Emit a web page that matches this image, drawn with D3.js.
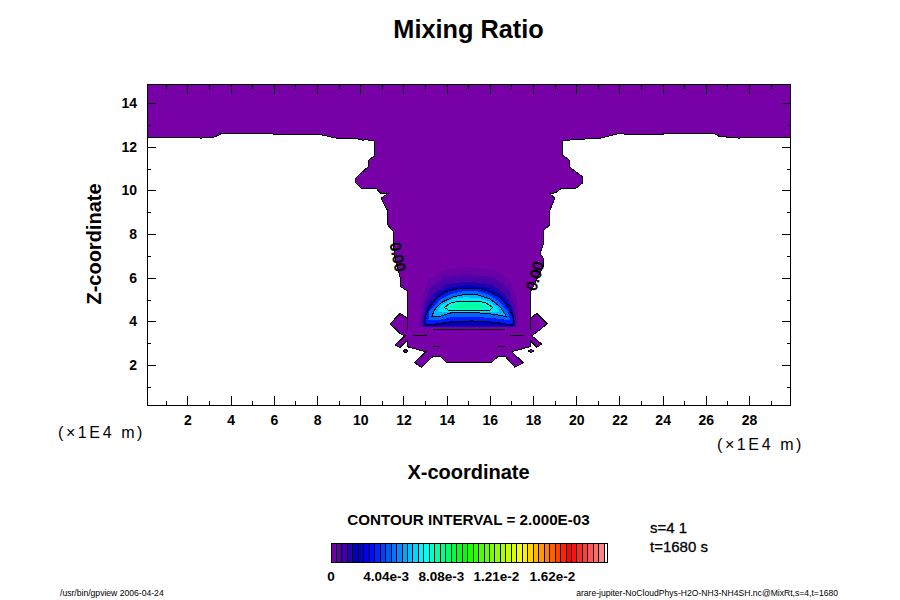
<!DOCTYPE html>
<html>
<head>
<meta charset="utf-8">
<script src="https://cdn.jsdelivr.net/npm/d3@7"></script>
<style>
html, body { margin: 0; padding: 0; background: #fff; }
text { font-family: "Liberation Sans", Arial, sans-serif; fill: #000; }
</style>
</head>
<body>
<div id="chart"></div>
<script>
// ---- values ----
const xDomain = [0.125, 29.92];
const zDomain = [0.17, 14.85];
const xTicks = [2, 4, 6, 8, 10, 12, 14, 16, 18, 20, 22, 24, 26, 28];
const zTicks = [2, 4, 6, 8, 10, 12, 14];
const xMinor = [1, 3, 5, 7, 9, 11, 13, 15, 17, 19, 21, 23, 25, 27, 29];
const zMinor = [1, 3, 5, 7, 9, 11, 13];

// zero contour: edge of the non-zero region, clockwise from the top left corner
const zeroRegion = [
  [0.125, 14.85], [29.92, 14.85], [29.92, 12.43], [27.66, 12.43], [27.58, 12.39], [27.27, 12.43],
  [26.65, 12.46], [26.34, 12.62], [24.18, 12.62], [24.03, 12.58], [22.22, 12.58], [22.02, 12.62],
  [21.10, 12.39], [20.17, 12.34], [19.75, 12.31], [19.37, 12.26], [19.37, 11.62], [19.68, 11.39],
  [19.71, 11.06], [20.28, 10.63], [20.28, 10.33], [19.99, 10.10], [19.32, 10.10], [19.06, 9.90],
  [18.78, 9.84], [19.01, 9.64], [18.78, 9.10], [18.78, 8.42], [18.50, 8.19], [18.50, 7.59],
  [18.32, 7.12], [18.47, 6.90], [18.47, 6.51], [18.20, 6.00], [17.89, 5.36], [17.89, 4.14],
  [18.17, 4.37], [18.66, 3.88], [17.94, 3.34], [18.40, 2.96], [18.17, 2.81], [17.86, 3.12],
  [17.86, 2.84], [17.01, 2.61], [17.55, 2.11], [17.16, 1.90], [16.70, 2.41], [16.39, 2.41],
  [16.08, 2.11], [14.00, 2.11], [13.69, 2.41], [13.38, 2.41], [12.84, 1.90], [12.50, 2.11],
  [13.04, 2.61], [12.18, 2.84], [12.18, 3.12], [11.84, 2.81], [11.61, 2.92], [12.07, 3.34],
  [11.84, 3.45], [11.38, 3.88], [11.84, 4.37], [12.19, 4.14], [12.19, 5.39], [11.87, 5.59],
  [11.84, 6.05], [11.57, 7.12], [11.53, 8.11], [11.27, 8.42], [11.25, 9.10], [10.96, 9.64],
  [11.25, 9.84], [10.94, 9.87], [10.73, 10.10], [10.05, 10.10], [9.80, 10.33], [9.77, 10.55],
  [10.37, 11.09], [10.39, 11.39], [10.67, 11.58], [10.65, 12.26], [10.30, 12.32], [10.11, 12.30],
  [9.99, 12.35], [8.91, 12.39], [8.21, 12.54], [7.82, 12.58], [6.00, 12.57], [5.97, 12.62],
  [3.58, 12.62], [3.47, 12.54], [3.19, 12.43], [2.73, 12.43], [2.66, 12.39], [2.39, 12.43],
  [0.125, 12.43]
];
const islandLeft = [[11.98, 2.64], [12.10, 2.72], [12.22, 2.64], [12.10, 2.56]];
const islandRight = [[17.78, 2.64], [17.90, 2.72], [18.02, 2.64], [17.90, 2.56]];

// stray bits of the zero contour inside the region
const zeroSlivers = [
  [[12.45, 3.36], [13.07, 3.36]],
  [[16.93, 3.36], [17.58, 3.36]],
  [[13.38, 2.86], [13.69, 2.86]],
  [[16.36, 2.86], [16.70, 2.86]],
  [[13.37, 3.65], [16.70, 3.65]],
  [[12.19, 4.14], [12.19, 3.60]],
  [[17.89, 4.14], [17.89, 3.60]]
];

// black contours of the bubble
const contour2 = [
  [13.00, 3.87], [13.00, 4.21], [13.23, 4.67], [13.61, 5.13], [14.07, 5.39], [14.62, 5.52],
  [15.46, 5.52], [16.00, 5.36], [16.47, 5.09], [16.85, 4.67], [17.08, 4.21], [17.08, 3.87],
  [16.78, 3.87], [16.24, 3.96], [15.16, 4.02], [14.31, 3.99], [13.46, 3.87]
];
const contour4 = [
  [13.31, 4.21], [13.43, 4.52], [13.77, 4.87], [14.31, 5.13], [14.85, 5.24], [15.46, 5.21],
  [16.00, 5.03], [16.47, 4.67], [16.78, 4.21], [16.24, 4.32], [15.16, 4.42], [14.23, 4.40],
  [13.61, 4.21]
];
const contour6 = [
  [13.89, 4.63], [14.15, 4.83], [14.54, 4.93], [15.46, 4.93], [15.85, 4.83], [16.13, 4.63],
  [15.96, 4.49], [15.46, 4.48], [14.15, 4.48]
];

// shading of the bubble, outermost first; values picked from the colour of each band
const shadeValues = [0.0004, 0.0008, 0.0014, 0.0018, 0.0032, 0.0044, 0.0056, 0.0064, 0.0073, 0.0079];
const shadeOutlines = [
  [[12.73, 3.74], [12.73, 4.06], [12.81, 4.98], [13.13, 5.90], [13.83, 6.35], [14.99, 6.51],
   [16.24, 6.35], [16.93, 5.90], [17.25, 4.98], [17.33, 4.06], [17.33, 3.74]],
  [[12.83, 3.74], [12.83, 3.97], [12.90, 4.75], [13.23, 5.53], [13.92, 6.03], [14.99, 6.13],
   [16.14, 6.03], [16.84, 5.53], [17.16, 4.75], [17.23, 3.97], [17.23, 3.74]],
  [[12.90, 3.74], [12.90, 3.97], [13.04, 4.71], [13.41, 5.30], [14.01, 5.71], [14.99, 5.82],
   [16.05, 5.71], [16.65, 5.30], [17.02, 4.71], [17.16, 3.97], [17.16, 3.74]],
  [[12.97, 3.79], [12.97, 4.25], [13.13, 4.71], [13.55, 5.21], [14.06, 5.53], [14.99, 5.67],
   [15.96, 5.53], [16.56, 5.21], [16.93, 4.71], [17.14, 4.25], [17.14, 3.79]],
  contour2,
  [[13.15, 4.05], [13.20, 4.45], [13.70, 5.00], [14.20, 5.26], [14.75, 5.38], [15.46, 5.37],
   [16.00, 5.20], [16.47, 4.88], [16.82, 4.45], [16.95, 4.05], [16.24, 4.14], [15.16, 4.22],
   [14.27, 4.20], [13.53, 4.04]],
  contour4,
  [[13.60, 4.42], [13.70, 4.70], [14.30, 5.03], [14.80, 5.10], [15.46, 5.08], [16.00, 4.92],
   [16.30, 4.65], [16.45, 4.42], [15.16, 4.45], [14.23, 4.44]],
  contour6,
  [[14.20, 4.64], [14.60, 4.84], [15.40, 4.84], [15.80, 4.66], [15.40, 4.55], [14.60, 4.55]]
];

// colour bar
const colorValues = [0, 0.0004, 0.0008, 0.0014, 0.0018, 0.0028, 0.0068, 0.0098, 0.014, 0.0175, 0.0202];
const colorList = ["#7700a6", "#6800a8", "#4c00a8", "#2400ae", "#0000b8", "#0000ff", "#00ffff", "#00ff00", "#ffff00", "#ff0000", "#ff9898"];
const barStep = 0.0004;
const barMax = 0.0202;
const barTicks = [0, 0.00404, 0.00808, 0.0121, 0.0162];
const barTickLabels = ["0", "4.04e-3", "8.08e-3", "1.21e-2", "1.62e-2"];

// ---- layout ----
const width = 900;
const height = 600;
const LEFT = 147, RIGHT = 790.5, TOP = 84.5, BOTTOM = 405;
const MAJOR = 9, MINOR = 4;

const svg = d3.select("#chart").append("svg")
  .attr("width", width)
  .attr("height", height)
  .style("display", "block");

const xScale = d3.scaleLinear().domain(xDomain).range([LEFT, RIGHT]);
const zScale = d3.scaleLinear().domain(zDomain).range([BOTTOM, TOP]);
const colorScale = d3.scaleLinear().domain(colorValues).range(colorList);

const line = d3.line().x(d => xScale(d[0])).y(d => zScale(d[1]));
const closed = d3.line().x(d => xScale(d[0])).y(d => zScale(d[1])).curve(d3.curveLinearClosed);

// ---- the field ----
const field = svg.append("g").attr("shape-rendering", "crispEdges");

[zeroRegion, islandLeft, islandRight].forEach(poly => {
  field.append("path")
    .attr("d", closed(poly))
    .attr("fill", colorScale(0))
    .attr("stroke", "#000")
    .attr("stroke-width", 1);
});

shadeOutlines.forEach((poly, i) => {
  field.append("path")
    .attr("d", closed(poly))
    .attr("fill", colorScale(shadeValues[i]));
});

[contour2, contour4, contour6].forEach(poly => {
  field.append("path")
    .attr("d", closed(poly))
    .attr("fill", "none")
    .attr("stroke", "#000")
    .attr("stroke-width", 1);
});

zeroSlivers.forEach(seg => {
  field.append("path")
    .attr("d", line(seg))
    .attr("fill", "none")
    .attr("stroke", "#000")
    .attr("stroke-width", 1);
});

// contour labels on the zero line
svg.append("text")
  .attr("transform", `translate(${xScale(11.74)},${zScale(6.95)}) rotate(78)`)
  .attr("text-anchor", "middle")
  .attr("dy", "0.35em")
  .style("font-size", "15px")
  .style("stroke", "#000")
  .style("stroke-width", 0.7)
  .text("0.00");

svg.append("text")
  .attr("transform", `translate(${xScale(18.09)},${zScale(6.08)}) rotate(-73)`)
  .attr("text-anchor", "middle")
  .attr("dy", "0.35em")
  .style("font-size", "15px")
  .style("stroke", "#000")
  .style("stroke-width", 0.7)
  .text("0.00");

// ---- axes ----
function styleAxis(g, labelled) {
  g.attr("shape-rendering", "crispEdges");
  g.select(".domain").remove();
  g.selectAll("line").attr("stroke", "#000").attr("stroke-width", 1);
  if (labelled) {
    g.selectAll("text")
      .style("font-size", "14px")
      .style("font-weight", "bold");
  } else {
    g.selectAll("text").remove();
  }
}

svg.append("g")
  .attr("transform", `translate(0,${BOTTOM})`)
  .call(d3.axisBottom(xScale).tickValues(xTicks).tickSizeInner(-MAJOR).tickSizeOuter(0).tickPadding(MAJOR + 1.5).tickFormat(d3.format("d")))
  .call(g => styleAxis(g, true));
svg.append("g")
  .attr("transform", `translate(0,${BOTTOM})`)
  .call(d3.axisBottom(xScale).tickValues(xMinor).tickSizeInner(-MINOR).tickSizeOuter(0))
  .call(g => styleAxis(g, false));
svg.append("g")
  .attr("transform", `translate(0,${TOP})`)
  .call(d3.axisTop(xScale).tickValues(xTicks).tickSizeInner(-MAJOR).tickSizeOuter(0))
  .call(g => styleAxis(g, false));
svg.append("g")
  .attr("transform", `translate(0,${TOP})`)
  .call(d3.axisTop(xScale).tickValues(xMinor).tickSizeInner(-MINOR).tickSizeOuter(0))
  .call(g => styleAxis(g, false));
svg.append("g")
  .attr("transform", `translate(${LEFT},0)`)
  .call(d3.axisLeft(zScale).tickValues(zTicks).tickSizeInner(-MAJOR).tickSizeOuter(0).tickPadding(10).tickFormat(d3.format("d")))
  .call(g => styleAxis(g, true));
svg.append("g")
  .attr("transform", `translate(${LEFT},0)`)
  .call(d3.axisLeft(zScale).tickValues(zMinor).tickSizeInner(-MINOR).tickSizeOuter(0))
  .call(g => styleAxis(g, false));
svg.append("g")
  .attr("transform", `translate(${RIGHT},0)`)
  .call(d3.axisRight(zScale).tickValues(zTicks).tickSizeInner(-MAJOR).tickSizeOuter(0))
  .call(g => styleAxis(g, false));
svg.append("g")
  .attr("transform", `translate(${RIGHT},0)`)
  .call(d3.axisRight(zScale).tickValues(zMinor).tickSizeInner(-MINOR).tickSizeOuter(0))
  .call(g => styleAxis(g, false));

svg.append("rect")
  .attr("x", LEFT).attr("y", TOP)
  .attr("width", RIGHT - LEFT).attr("height", BOTTOM - TOP)
  .attr("fill", "none")
  .attr("stroke", "#000")
  .attr("stroke-width", 1)
  .attr("shape-rendering", "crispEdges");

// ---- titles ----
function label(x, y, str, size, bold, anchor) {
  return svg.append("text")
    .attr("x", x).attr("y", y)
    .attr("text-anchor", anchor || "middle")
    .style("font-size", size + "px")
    .style("font-weight", bold ? "bold" : "normal")
    .text(str);
}

label(468.5, 38, "Mixing Ratio", 25.3, true);
label(468.5, 479, "X-coordinate", 20, true);
svg.append("text")
  .attr("transform", "translate(101,244) rotate(-90)")
  .attr("text-anchor", "middle")
  .style("font-size", "20px")
  .style("font-weight", "bold")
  .text("Z-coordinate");

label(58, 438, "(\u00d71E4 m)", 16, false, "start").style("letter-spacing", "2.6px");
label(717, 450, "(\u00d71E4 m)", 16, false, "start").style("letter-spacing", "2.6px");

label(468.5, 525, "CONTOUR INTERVAL = 2.000E-03", 15.2, true);
label(650, 533, "s=4 1", 15, false, "start").style("stroke", "#000").style("stroke-width", 0.3);
label(650, 552, "t=1680 s", 15, false, "start").style("stroke", "#000").style("stroke-width", 0.3);

label(60, 596, "/usr/bin/gpview 2006-04-24", 8.6, false, "start");
label(838, 596, "arare-jupiter-NoCloudPhys-H2O-NH3-NH4SH.nc@MixRt,s=4,t=1680", 8.6, false, "end");

// ---- colour bar ----
const barScale = d3.scaleLinear().domain([0, barMax]).range([331, 607]);
const BAR_Y = 543, BAR_H = 19;

const bar = svg.append("g").attr("shape-rendering", "crispEdges");
bar.selectAll("rect")
  .data(d3.range(0, barMax - barStep / 2, barStep))
  .enter()
  .append("rect")
  .attr("x", d => barScale(d))
  .attr("y", BAR_Y)
  .attr("width", barScale(barStep) - barScale(0))
  .attr("height", BAR_H)
  .attr("fill", d => colorScale(d + barStep / 2))
  .attr("stroke", "#000")
  .attr("stroke-width", 1);
bar.append("rect")
  .attr("x", 331).attr("y", BAR_Y)
  .attr("width", 276).attr("height", BAR_H)
  .attr("fill", "none")
  .attr("stroke", "#000")
  .attr("stroke-width", 1);

barTicks.forEach((v, i) => {
  label(barScale(v), 581, barTickLabels[i], 13.5, true);
});
</script>
</body>
</html>
